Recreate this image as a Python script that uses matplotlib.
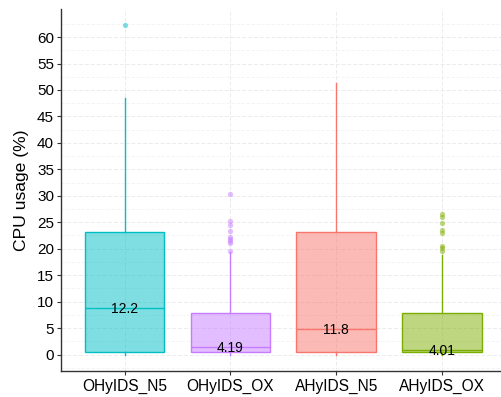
import numpy as np
import matplotlib.pyplot as plt
from matplotlib.colors import to_rgba

plt.rcParams['font.family'] = ['Liberation Sans', 'DejaVu Sans']

# Data
kategori = ['OHyIDS_N5', 'OHyIDS_OX', 'AHyIDS_N5', 'AHyIDS_OX']
warna = ['#00BFC4', '#C77CFF', '#F8766D', '#7CAE00']
q1 = [0.55, 0.4, 0.55, 0.4]
median = [8.8, 1.4, 4.9, 0.9]
q3 = [23.2, 7.8, 23.2, 7.9]
whis_bawah = [0.0, 0.0, 0.0, 0.0]
whis_atas = [48.5, 19.3, 51.3, 18.9]
outlier = [
    [62.2],
    [19.6, 21.1, 21.5, 21.8, 22.3, 23.4, 24.5, 25.2, 30.4],
    [],
    [19.5, 20.1, 20.6, 23.0, 23.6, 24.8, 26.0, 26.6],
]
rata2 = [12.2, 4.19, 11.8, 4.01]
yticks = [0, 5, 10, 15, 20, 25, 30, 35, 40, 45, 50, 55, 60]

fig = plt.figure(figsize=(5.01, 3.97), dpi=100)
ax = fig.add_axes([61 / 501, 26 / 397, 444.5 / 501, 362 / 397])

pos = np.arange(1, len(kategori) + 1)

# Grid (major + minor, very light dashed)
ax.set_axisbelow(True)
ax.set_yticks(yticks)
ax.set_yticks([t + 2.5 for t in [-5] + yticks], minor=True)
ax.grid(True, which='major', axis='both', color='#EBEBEB', linestyle=(0, (4, 2)), linewidth=0.7)
ax.grid(True, which='minor', axis='y', color='#F2F2F2', linestyle=(0, (4, 2)), linewidth=0.6)

for i in range(len(kategori)):
    stat = dict(med=median[i], q1=q1[i], q3=q3[i], whislo=whis_bawah[i],
                whishi=whis_atas[i], fliers=outlier[i], label=kategori[i])
    c = warna[i]
    ax.bxp([stat], positions=[pos[i]], widths=0.75, patch_artist=True, showcaps=False,
           boxprops=dict(facecolor=to_rgba(c, 0.5), edgecolor=c, linewidth=1.0),
           medianprops=dict(color=c, linewidth=1.0),
           whiskerprops=dict(color=c, linewidth=1.0),
           flierprops=dict(marker='o', markerfacecolor=c, markeredgecolor='none',
                           markersize=3.8, alpha=0.5))
    ax.text(pos[i], median[i] - 0.2, f'{rata2[i]}', ha='center', va='center',
            fontsize=10, color='black')

ax.set_xlim(0.4, 4.6)
ax.set_ylim(-3.11, 65.3)
ax.set_xticks(pos)
ax.set_xticklabels(kategori, fontsize=11.2, color='black')
ax.tick_params(axis='y', which='major', labelsize=11, labelcolor='black',
               length=3, color='#333333', width=0.8, pad=2)
ax.tick_params(axis='y', which='minor', length=0)
ax.tick_params(axis='x', length=3, color='#333333', width=0.8, labelsize=11.2, pad=3)
ax.set_ylabel('CPU usage (%)', fontsize=12.6, color='black', labelpad=6)

for s in ['top', 'right']:
    ax.spines[s].set_visible(False)
for s in ['left', 'bottom']:
    ax.spines[s].set_color('#333333')
    ax.spines[s].set_linewidth(1.0)

plt.savefig('out.png', dpi=100)
